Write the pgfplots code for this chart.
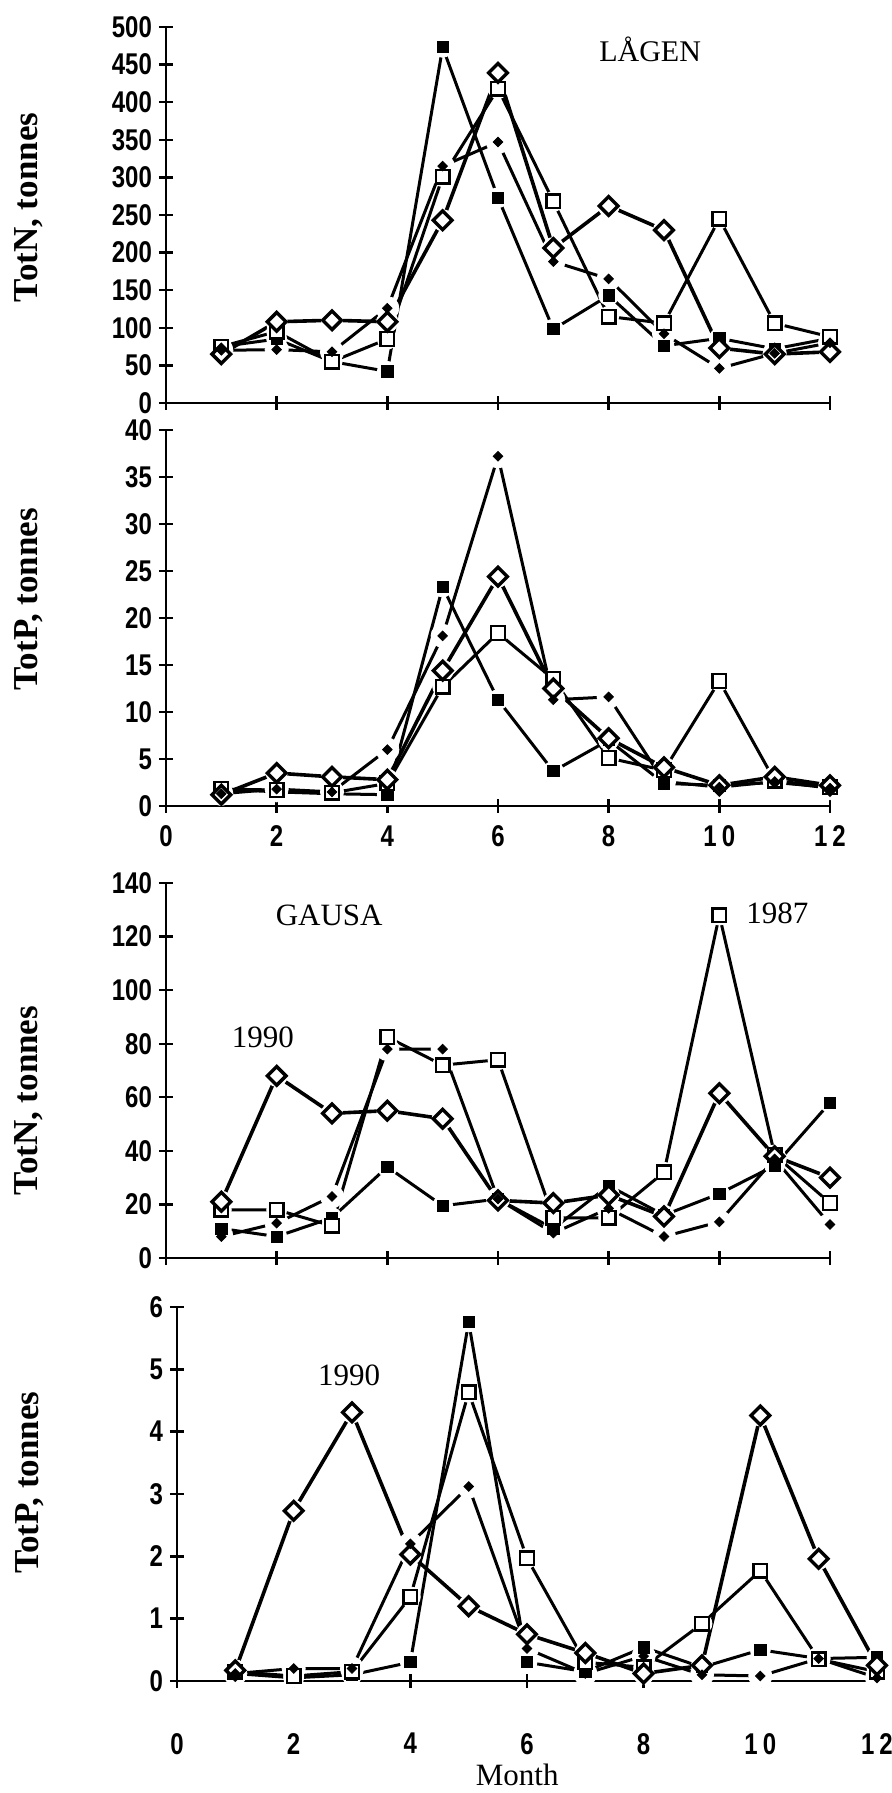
\documentclass[border=0pt]{standalone}
\usepackage{fontspec}
\setmainfont{Liberation Serif}
\newfontfamily\tickfont[FakeStretch=0.8]{Liberation Sans}
\usepackage{pgfplots}
\pgfplotsset{compat=1.18}
\usepackage{pgfplotstable}

\pgfplotstableread{
m fs os od fd
1 75 75 65 70
2 85 95 108 71
3 55 55 110 68
4 42 85 108 126
5 473 301 243 315
6 273 418 439 347
7 98 268 206 188
8 143 115 262 165
9 76 106 230 92
10 86 245 73 46
11 72 106 65 66
12 86 88 68 80
}\tNL

\pgfplotstableread{
m fs os od fd
1 1.8 1.8 1.2 1.3
2 1.5 1.7 3.5 1.8
3 1.3 1.4 3.1 1.5
4 1.2 2.4 2.8 6.0
5 23.3 12.7 14.4 18.1
6 11.3 18.4 24.4 37.2
7 3.7 13.5 12.5 11.3
8 7.0 5.1 7.2 11.6
9 2.4 3.8 4.1 2.6
10 2.2 13.3 2.2 2.0
11 2.5 2.7 3.1 2.6
12 2.0 2.0 2.2 1.9
}\tPL

\pgfplotstableread{
m fs os od fd
1 11 18 21 8
2 8 18 68 13
3 15 12 54 23
4 34 82.5 55 78
5 19.5 72 52 78
6 22 74 21.5 22
7 11 15 20.5 9.3
8 27 15 23.5 18.5
9 16 32 15.5 8
10 24 128 61.5 13.5
11 34.5 38.5 38 37
12 58 20.5 30 12.5
}\tNG

\pgfplotstableread{
m fs os od fd
1 0.12 0.15 0.17 0.12
2 0.05 0.08 2.73 0.2
3 0.1 0.15 4.31 0.2
4 0.3 1.35 2.03 2.2
5 5.76 4.63 1.2 3.12
6 0.3 1.97 0.75 0.52
7 0.15 0.3 0.45 0.12
8 0.54 0.22 0.12 0.4
9 0.22 0.92 0.25 0.1
10 0.5 1.77 4.26 0.08
11 0.36 0.35 1.96 0.36
12 0.38 0.15 0.25 0.05
}\tPG

\pgfplotsset{
  panel/.style={
    scale only axis, clip=false,
    xmin=0, xmax=12, ymin=0,
    axis x line=bottom, axis y line=left,
    axis line style={-, line width=1.2pt},
    every tick/.style={black, line width=1.2pt},
    tick align=center, major tick length=7pt,
    xtick={0,2,...,12},
    xticklabels={0,2,4,6,8,1\,0,1\,2},
    tick label style={font=\tickfont\bfseries\fontsize{15}{16}\selectfont},
    /pgf/number format/assume math mode=true,
    ylabel style={font=\bfseries\fontsize{17.5}{19}\selectfont, anchor=center},
  },
  lin/.style={black, line width=1.5pt, mark=none, line join=round},
  halo/.style={only marks, mark=*, mark size=5pt, white, mark options={draw=white, fill=white}},
  mfs/.style={only marks, black, mark=square*, mark size=2.8pt, mark options={fill=black, draw=black}},
  mos/.style={only marks, black, mark=square*, mark size=3.4pt, mark options={fill=white, draw=black, line width=1.2pt}},
  mod/.style={only marks, black, mark=square*, mark size=3.3pt, mark options={rotate=45, fill=white, draw=black, line width=1.7pt}},
  mfd/.style={only marks, black, mark=square*, mark size=1.7pt, mark options={rotate=45, fill=black, draw=black}},
}

\newcommand\drawseries[1]{%
  \addplot[lin] table[x=m,y=fs]{#1};
  \addplot[lin] table[x=m,y=os]{#1};
  \addplot[lin, line width=1.8pt] table[x=m,y=od]{#1};
  \addplot[lin] table[x=m,y=fd]{#1};
  \addplot[halo] table[x=m,y=fs]{#1};
  \addplot[halo] table[x=m,y=os]{#1};
  \addplot[halo, mark size=5.3pt] table[x=m,y=od]{#1};
  \addplot[halo, mark size=5.8pt] table[x=m,y=fd]{#1};
  \addplot[mfs] table[x=m,y=fs]{#1};
  \addplot[mos] table[x=m,y=os]{#1};
  \addplot[mod] table[x=m,y=od]{#1};
  \addplot[mfd] table[x=m,y=fd]{#1};
}

\begin{document}
\begin{tikzpicture}
\path[use as bounding box] (0,0) rectangle (445.5pt,896.5pt);

% Panel 1: TotN LAAGEN
\begin{axis}[panel, at={(83pt,695pt)}, anchor=south west,
  width=332pt, height=188pt, ymax=500, ytick={0,50,...,500},
  xticklabels={},
  ylabel={TotN, tonnes},
  ylabel style={at={(axis description cs:-0.206,0.52)}}]
\drawseries{\tNL}
\node[font=\fontsize{15}{17}\selectfont] at (axis cs:8.75,470) {LÅGEN};
\end{axis}

% Panel 2: TotP LAAGEN
\begin{axis}[panel, at={(83pt,493.5pt)}, anchor=south west,
  width=332pt, height=188pt, ymax=40, ytick={0,5,...,40},
  xticklabel style={yshift=-3pt},
  ylabel={TotP, tonnes},
  ylabel style={at={(axis description cs:-0.206,0.55)}}]
\drawseries{\tPL}
\end{axis}

% Panel 3: TotN GAUSA
\begin{axis}[panel, at={(83pt,267.5pt)}, anchor=south west,
  width=332pt, height=187.5pt, ymax=140, ytick={0,20,...,140},
  xticklabels={},
  ylabel={TotN, tonnes},
  ylabel style={at={(axis description cs:-0.206,0.42)}}]
\drawseries{\tNG}
\node[font=\fontsize{15.5}{17}\selectfont] at (axis cs:2.95,128) {GAUSA};
\node[font=\fontsize{15.5}{17}\selectfont] at (axis cs:1.75,82.5) {1990};
\node[font=\fontsize{15.5}{17}\selectfont] at (axis cs:11.05,128.5) {1987};
\end{axis}

% Panel 4: TotP GAUSA
\begin{axis}[panel, at={(88.5pt,56pt)}, anchor=south west,
  width=350pt, height=187pt, ymax=6, ytick={0,1,...,6},
  xticklabel style={yshift=-19pt},
  ylabel={TotP, tonnes},
  ylabel style={at={(axis description cs:-0.211,0.53)}},
  xlabel={Month},
  xlabel style={font=\fontsize{15.5}{17}\selectfont, at={(axis description cs:0.486,-0.25)}, anchor=center}]
\drawseries{\tPG}
\node[font=\fontsize{15.5}{17}\selectfont] at (axis cs:2.95,4.9) {1990};
\end{axis}
\end{tikzpicture}
\end{document}
